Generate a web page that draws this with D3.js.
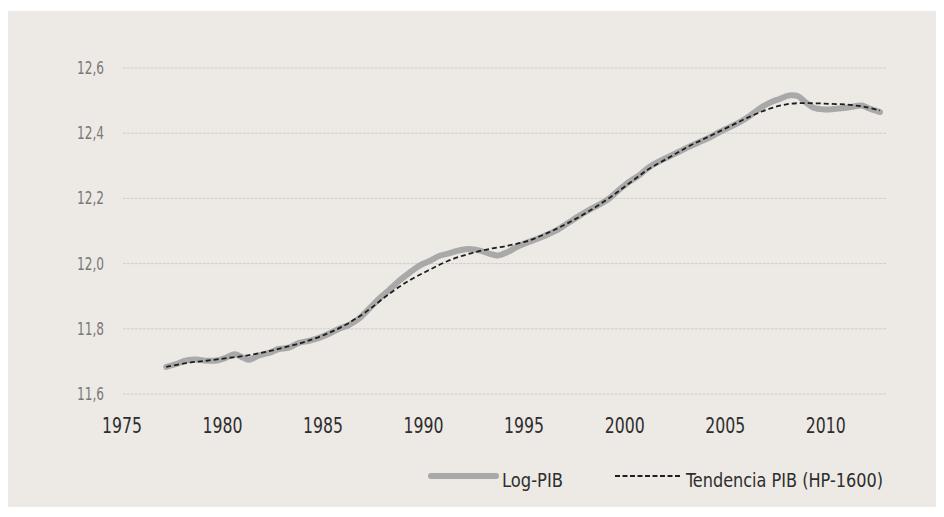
<!DOCTYPE html>
<html>
<head>
<meta charset="utf-8">
<script src="https://cdn.jsdelivr.net/npm/d3@7"></script>
<style>
  body { margin: 0; background: #fff; }
  text { font-family: "DejaVu Sans Condensed", "DejaVu Sans", sans-serif; }
</style>
</head>
<body>
<svg id="chart" width="944" height="517"></svg>
<script>
// Log-PIB (quarterly-ish readings)
const pibYears = [1977.2, 1977.7, 1978.2, 1978.7, 1979.2, 1979.7, 1980.2, 1980.6, 1981.0, 1981.3,
  1981.8, 1982.3, 1982.8, 1983.3, 1983.8, 1984.3, 1984.8, 1985.3, 1985.8, 1986.3,
  1986.8, 1987.3, 1987.8, 1988.3, 1988.8, 1989.3, 1989.8, 1990.3, 1990.8, 1991.3,
  1991.8, 1992.3, 1992.8, 1993.3, 1993.7, 1994.2, 1994.7, 1995.2, 1995.7, 1996.2,
  1996.7, 1997.2, 1997.7, 1998.2, 1998.7, 1999.2, 1999.7, 2000.2, 2000.7, 2001.2,
  2001.7, 2002.2, 2002.7, 2003.2, 2003.7, 2004.2, 2004.7, 2005.2, 2005.7, 2006.2,
  2006.7, 2007.2, 2007.7, 2008.2, 2008.6, 2009.0, 2009.4, 2009.9, 2010.4, 2010.9,
  2011.4, 2011.8, 2012.2, 2012.7];
const pibValues = [11.683, 11.692, 11.703, 11.706, 11.702, 11.703, 11.712, 11.722, 11.712, 11.705,
  11.718, 11.726, 11.738, 11.742, 11.757, 11.763, 11.772, 11.785, 11.800, 11.812,
  11.832, 11.862, 11.893, 11.920, 11.948, 11.972, 11.994, 12.008, 12.024, 12.032,
  12.041, 12.045, 12.040, 12.030, 12.025, 12.036, 12.053, 12.066, 12.077, 12.090,
  12.105, 12.125, 12.145, 12.163, 12.180, 12.198, 12.225, 12.250, 12.270, 12.295,
  12.313, 12.328, 12.343, 12.358, 12.372, 12.386, 12.403, 12.418, 12.433, 12.452,
  12.475, 12.493, 12.505, 12.516, 12.514, 12.495, 12.478, 12.473, 12.474, 12.477,
  12.482, 12.485, 12.475, 12.465];

// Tendencia PIB (HP-1600)
const trendYears = [1977.2, 1978.2, 1979.2, 1980.2, 1981.2, 1982.2, 1983.2, 1984.2, 1985.2, 1986.2,
  1987.2, 1988.2, 1989.2, 1990.2, 1991.2, 1992.2, 1993.2, 1994.2, 1995.2, 1996.2,
  1997.2, 1998.2, 1999.2, 2000.2, 2001.2, 2002.2, 2003.2, 2004.2, 2005.2, 2006.2,
  2007.2, 2008.2, 2009.2, 2010.2, 2011.2, 2012.0, 2012.7];
const trendValues = [11.683, 11.695, 11.702, 11.710, 11.718, 11.730, 11.745, 11.762, 11.785, 11.815,
  11.855, 11.903, 11.945, 11.978, 12.008, 12.029, 12.044, 12.055, 12.070, 12.095,
  12.125, 12.160, 12.200, 12.245, 12.290, 12.325, 12.360, 12.390, 12.420, 12.450,
  12.475, 12.490, 12.492, 12.490, 12.487, 12.480, 12.470];

const xTicks = [1975, 1980, 1985, 1990, 1995, 2000, 2005, 2010];
const yTicks = [11.6, 11.8, 12.0, 12.2, 12.4, 12.6];
const legendLabels = ["Log-PIB", "Tendencia PIB (HP-1600)"];

const svg = d3.select("#chart");

// panel background
svg.append("rect")
  .attr("x", 8).attr("y", 11)
  .attr("width", 928).attr("height", 496)
  .attr("fill", "#ede9e5");

const x = d3.scaleLinear().domain([1975, 2013]).range([122, 886]);
const y = d3.scaleLinear().domain([11.6, 12.6]).range([394, 68]);

// gridlines
svg.append("g")
  .selectAll("line")
  .data(yTicks)
  .enter()
  .append("line")
  .attr("x1", 123).attr("x2", 887)
  .attr("y1", d => y(d)).attr("y2", d => y(d))
  .attr("stroke", "#d2cdc8")
  .attr("stroke-width", 1)
  .attr("stroke-dasharray", "3,1");

// y labels (narrowed to mimic the condensed face of the original)
const fmt = d => d3.format(".1f")(d).replace(".", ",");
svg.append("g")
  .selectAll("text")
  .data(yTicks)
  .enter()
  .append("text")
  .attr("x", 104)
  .attr("y", d => y(d) + 6)
  .attr("text-anchor", "end")
  .attr("font-size", 17)
  .attr("textLength", 27)
  .attr("lengthAdjust", "spacingAndGlyphs")
  .attr("fill", "#7a7877")
  .text(fmt);

// x labels
svg.append("g")
  .selectAll("text")
  .data(xTicks)
  .enter()
  .append("text")
  .attr("x", d => x(d))
  .attr("y", 433)
  .attr("text-anchor", "middle")
  .attr("font-size", 22)
  .attr("textLength", 40)
  .attr("lengthAdjust", "spacingAndGlyphs")
  .attr("fill", "#2e2e2e")
  .text(d => d);

const line = d3.line()
  .x(d => x(d[0]))
  .y(d => y(d[1]))
  .curve(d3.curveCatmullRom);

svg.append("path")
  .attr("d", line(d3.zip(pibYears, pibValues)))
  .attr("fill", "none")
  .attr("stroke", "#a9a9a9")
  .attr("stroke-width", 6)
  .attr("stroke-linecap", "round")
  .attr("stroke-linejoin", "round");

svg.append("path")
  .attr("d", line(d3.zip(trendYears, trendValues)))
  .attr("fill", "none")
  .attr("stroke", "#1e1e1e")
  .attr("stroke-width", 1.8)
  .attr("stroke-dasharray", "5,3");

// legend
const lg = svg.append("g");
lg.append("line")
  .attr("x1", 431).attr("x2", 496).attr("y1", 476).attr("y2", 476)
  .attr("stroke", "#a9a9a9").attr("stroke-width", 6).attr("stroke-linecap", "round");
lg.append("text")
  .attr("x", 502).attr("y", 487)
  .attr("font-size", 20).attr("fill", "#2e2e2e")
  .attr("textLength", 61).attr("lengthAdjust", "spacingAndGlyphs")
  .text(legendLabels[0]);
lg.append("line")
  .attr("x1", 615).attr("x2", 680).attr("y1", 476).attr("y2", 476)
  .attr("stroke", "#1e1e1e").attr("stroke-width", 1.8).attr("stroke-dasharray", "5,2.5");
lg.append("text")
  .attr("x", 686).attr("y", 487)
  .attr("font-size", 20).attr("fill", "#2e2e2e")
  .attr("textLength", 197).attr("lengthAdjust", "spacingAndGlyphs")
  .text(legendLabels[1]);
</script>
</body>
</html>
